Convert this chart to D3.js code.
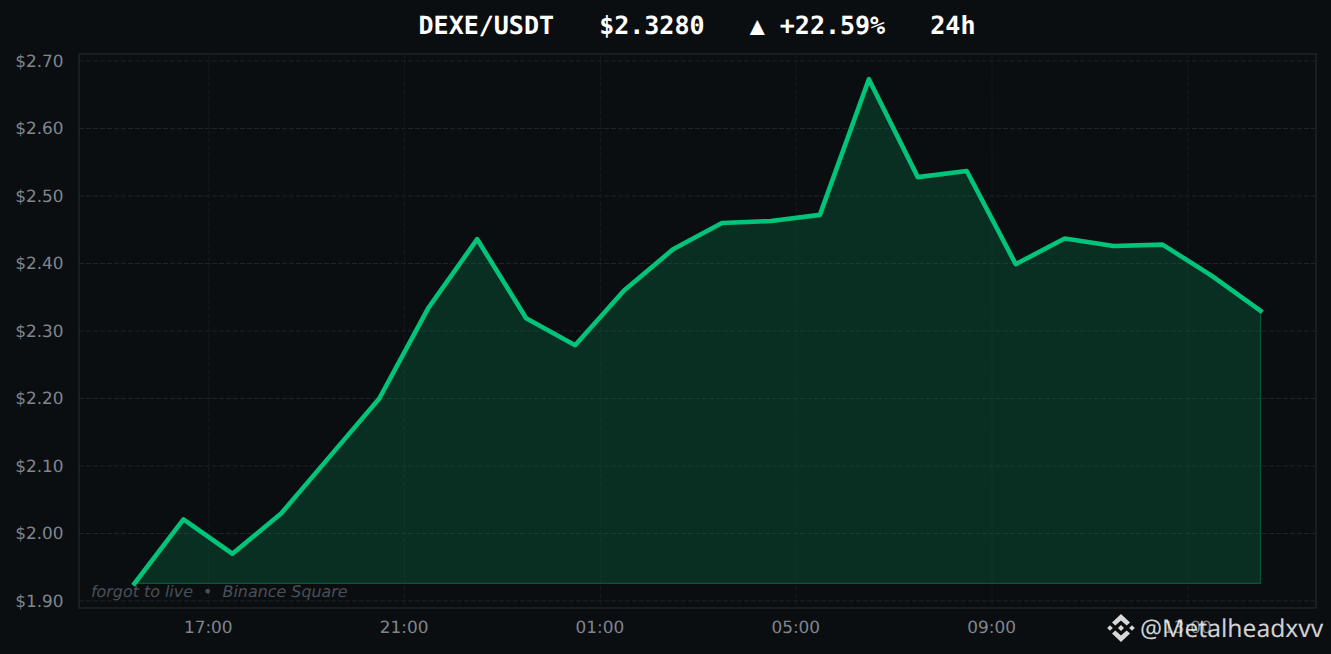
<!DOCTYPE html>
<html>
<head>
<meta charset="utf-8">
<script src="https://cdn.jsdelivr.net/npm/d3@7"></script>
<style>
  html, body { margin: 0; padding: 0; background: #0b0e11; overflow: hidden; }
  svg { display: block; text-rendering: geometricPrecision; }
</style>
</head>
<body>
<svg id="chart"></svg>
<script>
const times = [
  "15:29", "16:29", "17:29", "18:29", "19:29", "20:29", "21:29", "22:29",
  "23:29", "00:29", "01:29", "02:29", "03:29", "04:29", "05:29", "06:29",
  "07:29", "08:29", "09:29", "10:29", "11:29", "12:29", "13:29", "14:29",
];
const prices = [
  1.926, 2.021, 1.97, 2.03, 2.115, 2.2, 2.334, 2.436,
  2.319, 2.279, 2.36, 2.421, 2.46, 2.463, 2.472, 2.673,
  2.528, 2.537, 2.399, 2.437, 2.426, 2.428, 2.382, 2.33,
];
const priceTicks = [1.9, 2.0, 2.1, 2.2, 2.3, 2.4, 2.5, 2.6, 2.7];
const timeTicks = ["17:00", "21:00", "01:00", "05:00", "09:00", "13:00"];
const titleText = "DEXE/USDT   $2.3280   ▲ +22.59%   24h";
const captionText = "forgot to live  •  Binance Square";
const handleText = "@Metalheadxvv";

const width = 1331;
const height = 654;
const frame = { top: 54, right: 1316, bottom: 608, left: 79 };

// times roll over midnight, anything before 15:00 belongs to the next day
const toDate = (t) => {
  const [h, m] = t.split(":").map(Number);
  return new Date(Date.UTC(2024, 0, h < 15 ? 2 : 1, h, m));
};

const data = times.map((t, i) => ({ date: toDate(t), price: prices[i] }));

const svg = d3.select("#chart").attr("width", width).attr("height", height);

svg.append("rect").attr("width", width).attr("height", height).attr("fill", "#0b0e11");

const x = d3
  .scaleTime()
  .domain([data[0].date, data[data.length - 1].date])
  .range([134.5, 1260.5]);

const y = d3.scaleLinear().domain([1.9, 2.7]).range([601, 61]);

// grid
svg
  .append("g")
  .selectAll("line")
  .data(priceTicks)
  .join("line")
  .attr("x1", frame.left)
  .attr("x2", frame.right)
  .attr("y1", (d) => y(d))
  .attr("y2", (d) => y(d))
  .attr("stroke", "#1e2329")
  .attr("stroke-width", 1)
  .attr("stroke-dasharray", "5 2");

svg
  .append("g")
  .selectAll("line")
  .data(timeTicks)
  .join("line")
  .attr("x1", (d) => x(toDate(d)))
  .attr("x2", (d) => x(toDate(d)))
  .attr("y1", frame.top)
  .attr("y2", frame.bottom)
  .attr("stroke", "#161a1f")
  .attr("stroke-width", 1)
  .attr("stroke-dasharray", "5 2");

// area under the price, closed at the lowest price
const baseline = d3.min(prices);
const area = d3
  .area()
  .x((d) => x(d.date))
  .y0(y(baseline))
  .y1((d) => y(d.price));

svg
  .append("path")
  .datum(data)
  .attr("fill", "#00c076")
  .attr("fill-opacity", 0.18)
  .attr("stroke", "#00c076")
  .attr("stroke-opacity", 0.35)
  .attr("stroke-width", 1.2)
  .attr("d", area);

const line = d3
  .line()
  .x((d) => x(d.date))
  .y((d) => y(d.price));

svg
  .append("path")
  .datum(data)
  .attr("fill", "none")
  .attr("stroke", "#00c47a")
  .attr("stroke-width", 4.6)
  .attr("stroke-linejoin", "round")
  .attr("stroke-linecap", "square")
  .attr("d", line);

// frame
svg
  .append("rect")
  .attr("x", frame.left)
  .attr("y", frame.top)
  .attr("width", frame.right - frame.left)
  .attr("height", frame.bottom - frame.top)
  .attr("fill", "none")
  .attr("stroke", "#1e2329")
  .attr("stroke-width", 1.5);

// axes
const yAxis = svg
  .append("g")
  .attr("transform", `translate(${frame.left},0)`)
  .call(
    d3
      .axisLeft(y)
      .tickValues(priceTicks)
      .tickSize(0)
      .tickPadding(15.5)
      .tickFormat((d) => `$${d.toFixed(2)}`)
  );
yAxis.select(".domain").remove();

const xAxis = svg
  .append("g")
  .attr("transform", `translate(0,${frame.bottom})`)
  .call(
    d3
      .axisBottom(x)
      .tickValues(timeTicks.map(toDate))
      .tickSize(0)
      .tickPadding(13)
      .tickFormat(d3.utcFormat("%H:%M"))
  );
xAxis.select(".domain").remove();
xAxis.selectAll(".tick text").attr("dx", -1);

svg
  .selectAll(".tick text")
  .attr("fill", "#80858e")
  .style("font-family", "'DejaVu Sans'")
  .style("font-size", "16.9px");

// title
svg
  .append("text")
  .attr("x", 697)
  .attr("y", 34)
  .attr("text-anchor", "middle")
  .attr("fill", "#ffffff")
  .style("font-family", "'DejaVu Sans Mono'")
  .style("font-weight", "bold")
  .style("font-size", "25px")
  .style("white-space", "pre")
  .text(titleText);

// caption inside the plot
svg
  .append("text")
  .attr("x", 91)
  .attr("y", 597)
  .attr("fill", "#4a4f58")
  .style("font-family", "'DejaVu Sans'")
  .style("font-style", "italic")
  .style("font-size", "15.9px")
  .style("white-space", "pre")
  .text(captionText);

// handle with the diamond mark
const mark = svg
  .append("g")
  .attr("transform", "translate(1121,628)")
  .attr("fill", "#d8d8d8");

const diamond = (cx, cy, r) => `M${cx},${cy - r}L${cx + r},${cy}L${cx},${cy + r}L${cx - r},${cy}Z`;
[
  [-11, 0, 2.8],
  [11, 0, 2.8],
].forEach(([cx, cy, r]) => mark.append("path").attr("d", diamond(cx, cy, r)));
mark.append("path").attr("d", diamond(0, 0, 3));
// upper and lower chevrons
mark.append("path").attr("d", "M0,-14L9,-5.5L5.7,-2.4L0,-7.6L-5.7,-2.4L-9,-5.5Z");
mark.append("path").attr("d", "M0,14L9,5.5L5.7,2.4L0,7.6L-5.7,2.4L-9,5.5Z");

svg
  .append("text")
  .attr("x", 1140)
  .attr("y", 637)
  .attr("fill", "#ffffff")
  .attr("fill-opacity", 0.82)
  .style("font-family", "'Noto Sans'")
  .style("font-size", "24.6px")
  .text(handleText);
</script>
</body>
</html>
